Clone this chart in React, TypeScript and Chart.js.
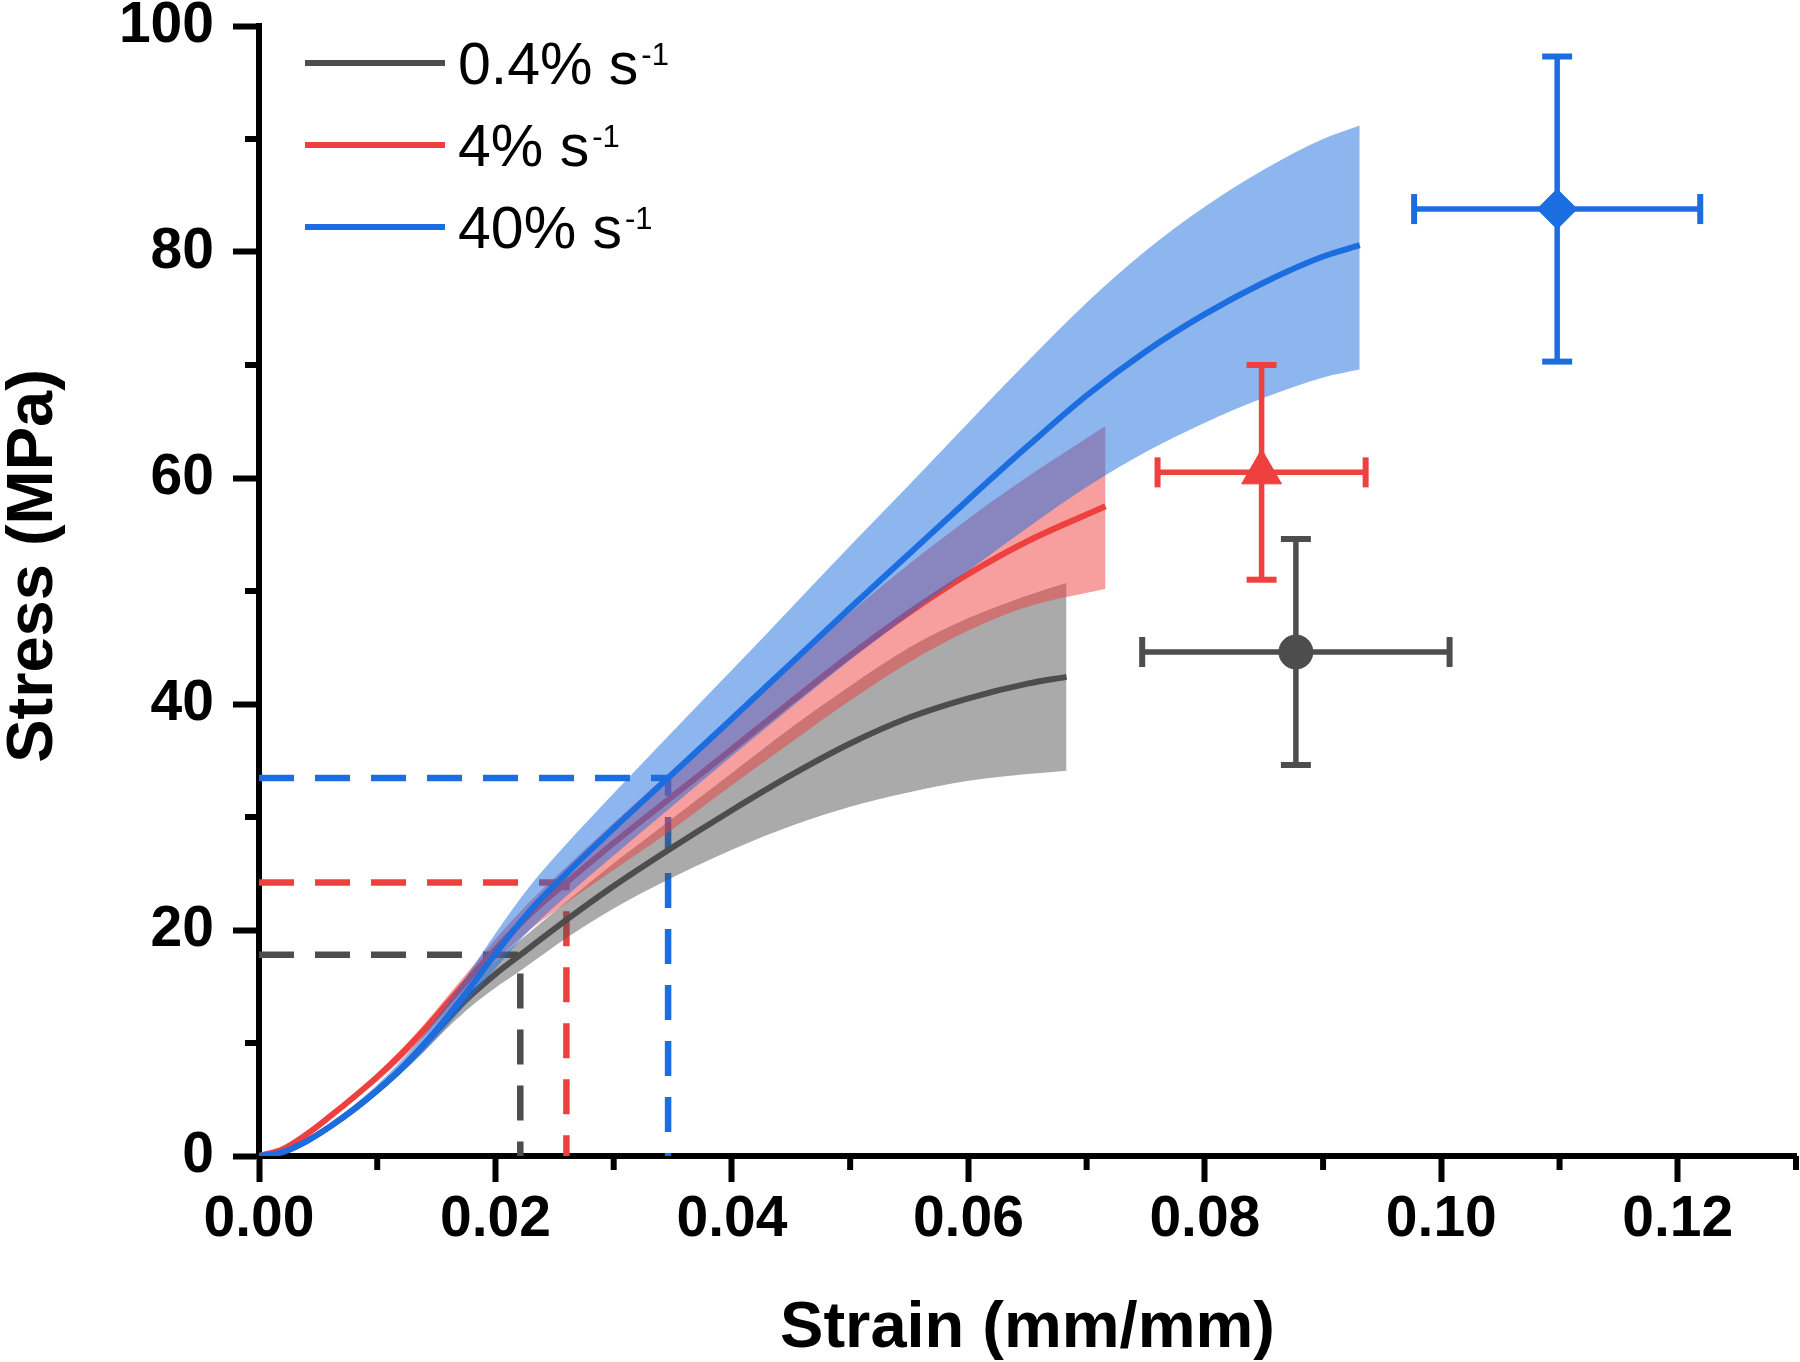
import { useEffect, useRef } from 'react';
import { Chart, registerables } from 'chart.js';

Chart.register(...registerables);

// ---------- data ----------
const seriesLabels = ['0.4% s', '4% s', '40% s'];
const labelSuperscript = '-1';
const seriesColors = ['#4d4d4d', '#ef4040', '#1c6ee0'];
const bandColors = ['rgba(77,77,77,0.48)', 'rgba(239,64,64,0.5)', 'rgba(28,110,224,0.5)'];

const xTitle = 'Strain (mm/mm)';
const yTitle = 'Stress (MPa)';

// 0.4% s-1
const strainSlow = [0, 0.002, 0.004, 0.006, 0.008, 0.010, 0.012, 0.014, 0.016, 0.018, 0.020, 0.0221, 0.026, 0.030, 0.0345, 0.040, 0.045, 0.050, 0.055, 0.060, 0.065, 0.0683];
const meanSlow = [0, 0.35, 1.3, 2.6, 4.1, 5.8, 7.7, 9.9, 12.2, 14.3, 16.1, 17.8, 20.9, 23.9, 27.0, 30.6, 33.7, 36.5, 38.8, 40.5, 41.8, 42.4];
const upperSlow = [0, 0.45, 1.45, 2.8, 4.35, 6.1, 8.1, 10.4, 12.9, 15.2, 17.2, 19.1, 22.5, 25.9, 29.5, 33.9, 37.9, 41.6, 45.0, 47.6, 49.6, 50.7];
const lowerSlow = [0, 0.3, 1.2, 2.45, 3.9, 5.5, 7.3, 9.3, 11.4, 13.3, 14.9, 16.4, 19.3, 21.9, 24.4, 27.1, 29.2, 30.9, 32.2, 33.2, 33.8, 34.1];

// 4% s-1
const strainMid = [0, 0.002, 0.004, 0.006, 0.008, 0.010, 0.012, 0.014, 0.016, 0.018, 0.020, 0.023, 0.026, 0.030, 0.0347, 0.040, 0.045, 0.050, 0.055, 0.060, 0.065, 0.0716];
const meanMid = [0, 0.6, 1.9, 3.5, 5.2, 7.0, 9.0, 11.2, 13.6, 16.0, 18.3, 21.5, 24.2, 27.7, 31.6, 36.0, 40.2, 44.3, 48.1, 51.5, 54.4, 57.5];
const upperMid = [0, 0.7, 2.05, 3.7, 5.5, 7.35, 9.4, 11.7, 14.2, 16.7, 19.2, 22.6, 25.6, 29.5, 33.9, 38.8, 43.5, 48.1, 52.4, 56.4, 60.1, 64.6];
const lowerMid = [0, 0.5, 1.75, 3.3, 4.9, 6.6, 8.5, 10.6, 12.9, 15.1, 17.2, 20.1, 22.4, 25.3, 28.7, 32.8, 36.6, 40.3, 43.7, 46.5, 48.6, 50.2];

// 40% s-1
const strainFast = [0, 0.002, 0.004, 0.006, 0.008, 0.010, 0.012, 0.014, 0.016, 0.018, 0.020, 0.023, 0.026, 0.030, 0.0346, 0.040, 0.045, 0.050, 0.055, 0.060, 0.065, 0.070, 0.075, 0.080, 0.085, 0.090, 0.0931];
const meanFast = [0, 0.35, 1.3, 2.6, 4.1, 5.8, 7.7, 9.9, 12.4, 15.1, 17.9, 21.8, 25.0, 29.0, 33.45, 38.7, 43.6, 48.5, 53.3, 58.1, 62.8, 67.3, 71.2, 74.5, 77.3, 79.6, 80.6];
const upperFast = [0, 0.45, 1.5, 2.9, 4.5, 6.3, 8.4, 10.8, 13.6, 16.6, 19.7, 24.0, 27.6, 32.1, 37.15, 43.0, 48.5, 54.0, 59.4, 64.9, 70.3, 75.5, 80.1, 84.0, 87.3, 90.0, 91.2];
const lowerFast = [0, 0.3, 1.2, 2.45, 3.9, 5.5, 7.3, 9.3, 11.6, 14.1, 16.6, 20.1, 23.0, 26.6, 30.65, 35.4, 39.7, 43.9, 47.9, 51.8, 55.6, 59.2, 62.3, 64.9, 67.1, 68.9, 69.6];

// dashed reference (yield) points
const yieldStrain = [0.0221, 0.0260, 0.0346];
const yieldStress = [17.8, 24.2, 33.45];

// failure points with error bars
const failStrain = [0.0877, 0.0848, 0.1098];
const failStrainErr = [0.0130, 0.0088, 0.0121];
const failStress = [44.6, 60.5, 83.8];
const failStressErr = [10.0, 9.5, 13.5];
const markerStyles = ['circle', 'triangle', 'rectRot'];
const markerRadii = [17, 23, 20];

// axes
const xMin = 0, xMax = 0.13, xStep = 0.01;
const yMin = 0, yMax = 100, yStep = 10;

const FONT = '"Liberation Sans", Arial, sans-serif';

const isMajorX = (v: number) => Math.round(v * 100) % 2 === 0;
const isMajorY = (v: number) => Math.round(v) % 20 === 0;

const pts = (xs: number[], ys: number[]) => xs.map((x, i) => ({ x, y: ys[i] }));

export default function App() {
  const ref = useRef<HTMLCanvasElement>(null);

  useEffect(() => {
    const canvas = ref.current;
    if (!canvas) return;

    const series = [
      { strain: strainSlow, mean: meanSlow, upper: upperSlow, lower: lowerSlow },
      { strain: strainMid, mean: meanMid, upper: upperMid, lower: lowerMid },
      { strain: strainFast, mean: meanFast, upper: upperFast, lower: lowerFast },
    ];

    const datasets: any[] = [];
    let order = 1000;

    // dashed guide lines (bottom layer)
    for (let i = 0; i < 3; i++) {
      datasets.push({
        data: [
          { x: xMin, y: yieldStress[i] },
          { x: yieldStrain[i], y: yieldStress[i] },
          { x: yieldStrain[i], y: yMin },
        ],
        borderColor: seriesColors[i],
        borderWidth: 6.5,
        borderDash: [35, 21],
        pointRadius: 0,
        fill: false,
        tension: 0,
        order: order--,
      });
    }

    // bands + mean lines
    for (let i = 0; i < 3; i++) {
      const s = series[i];
      const upIdx = datasets.length;
      datasets.push({
        data: pts(s.strain, s.upper),
        borderColor: 'rgba(0,0,0,0)',
        borderWidth: 0,
        pointRadius: 0,
        backgroundColor: bandColors[i],
        fill: { target: upIdx + 1, above: bandColors[i], below: bandColors[i] },
        cubicInterpolationMode: 'monotone',
        order: order--,
      });
      datasets.push({
        data: pts(s.strain, s.lower),
        borderColor: 'rgba(0,0,0,0)',
        borderWidth: 0,
        pointRadius: 0,
        fill: false,
        cubicInterpolationMode: 'monotone',
        order: order--,
      });
      datasets.push({
        data: pts(s.strain, s.mean),
        borderColor: seriesColors[i],
        borderWidth: 6,
        pointRadius: 0,
        fill: false,
        cubicInterpolationMode: 'monotone',
        order: order--,
      });
    }

    // error bars and markers
    for (let i = 0; i < 3; i++) {
      const c = seriesColors[i];
      datasets.push({
        data: [
          { x: failStrain[i] - failStrainErr[i], y: failStress[i] },
          { x: failStrain[i] + failStrainErr[i], y: failStress[i] },
        ],
        borderColor: c,
        borderWidth: 5.5,
        pointStyle: 'line',
        pointRotation: 90,
        pointRadius: 15,
        pointHoverRadius: 15,
        pointBorderWidth: 6,
        pointBorderColor: c,
        fill: false,
        order: order--,
      });
      datasets.push({
        data: [
          { x: failStrain[i], y: failStress[i] - failStressErr[i] },
          { x: failStrain[i], y: failStress[i] + failStressErr[i] },
        ],
        borderColor: c,
        borderWidth: 5.5,
        pointStyle: 'line',
        pointRotation: 0,
        pointRadius: 15,
        pointHoverRadius: 15,
        pointBorderWidth: 6,
        pointBorderColor: c,
        fill: false,
        order: order--,
      });
      datasets.push({
        data: [{ x: failStrain[i], y: failStress[i] }],
        showLine: false,
        pointStyle: markerStyles[i],
        pointRadius: markerRadii[i],
        pointHoverRadius: markerRadii[i],
        pointBackgroundColor: c,
        pointBorderColor: c,
        pointBorderWidth: 1,
        order: order--,
      });
    }

    const decor = {
      id: 'decor',
      afterDraw(chart: any) {
        const { ctx, chartArea, scales } = chart;
        const xs = scales.x;
        const ys = scales.y;
        ctx.save();
        // minor ticks
        ctx.strokeStyle = '#000';
        ctx.lineWidth = 6;
        ctx.lineCap = 'butt';
        xs.ticks.forEach((t: any) => {
          if (!isMajorX(t.value)) {
            const px = xs.getPixelForValue(t.value);
            ctx.beginPath();
            ctx.moveTo(px, chartArea.bottom);
            ctx.lineTo(px, chartArea.bottom + 14);
            ctx.stroke();
          }
        });
        ys.ticks.forEach((t: any) => {
          if (!isMajorY(t.value)) {
            const py = ys.getPixelForValue(t.value);
            ctx.beginPath();
            ctx.moveTo(chartArea.left, py);
            ctx.lineTo(chartArea.left - 14, py);
            ctx.stroke();
          }
        });

        // y-axis title
        ctx.save();
        ctx.translate(52, (chartArea.top + chartArea.bottom) / 2 - 25);
        ctx.rotate(-Math.PI / 2);
        ctx.fillStyle = '#000';
        ctx.font = `bold 65px ${FONT}`;
        ctx.textAlign = 'center';
        ctx.textBaseline = 'alphabetic';
        ctx.fillText(yTitle, 0, 0);
        ctx.restore();

        // legend
        const lx0 = chartArea.left + 46;
        const lx1 = chartArea.left + 186;
        const tx = chartArea.left + 199;
        for (let i = 0; i < 3; i++) {
          const ly = chartArea.top + 37 + 82 * i;
          ctx.strokeStyle = seriesColors[i];
          ctx.lineWidth = 6;
          ctx.beginPath();
          ctx.moveTo(lx0, ly);
          ctx.lineTo(lx1, ly);
          ctx.stroke();
          ctx.fillStyle = '#000';
          ctx.textAlign = 'left';
          ctx.textBaseline = 'alphabetic';
          ctx.font = `59px ${FONT}`;
          ctx.fillText(seriesLabels[i], tx, ly + 21);
          const w = ctx.measureText(seriesLabels[i]).width;
          ctx.font = `31px ${FONT}`;
          ctx.fillText(labelSuperscript, tx + w + 3, ly + 2);
        }
        ctx.restore();
      },
    };

    const chart = new Chart(canvas, {
      type: 'line',
      data: { datasets },
      plugins: [decor],
      options: {
        responsive: false,
        devicePixelRatio: 1,
        animation: false,
        events: [],
        layout: { autoPadding: false, padding: { top: 26, right: 3, left: 0, bottom: 0 } },
        plugins: {
          legend: { display: false },
          tooltip: { enabled: false },
        },
        scales: {
          x: {
            type: 'linear',
            min: xMin,
            max: xMax,
            afterFit: (s: any) => { s.height = 206; },
            ticks: {
              stepSize: xStep,
              autoSkip: false,
              maxRotation: 0,
              minRotation: 0,
              padding: 4,
              color: '#000',
              font: { family: FONT, size: 57, weight: 'bold', lineHeight: 1.2 },
              callback: (v: any) => {
                const k = Math.round(Number(v) * 100);
                return k % 2 === 0 ? (k / 100).toFixed(2) : '';
              },
            },
            grid: {
              drawOnChartArea: false,
              drawTicks: true,
              tickLength: 26,
              tickWidth: 6,
              tickColor: (c: any) => (c.tick && isMajorX(c.tick.value) ? '#000' : 'rgba(0,0,0,0)'),
            },
            border: { display: true, color: '#000', width: 6 },
            title: {
              display: true,
              text: xTitle,
              color: '#000',
              padding: 0,
              font: { family: FONT, size: 65, weight: 'bold', lineHeight: 1.0 },
            },
          },
          y: {
            type: 'linear',
            min: yMin,
            max: yMax,
            afterFit: (s: any) => { s.width = 259; },
            ticks: {
              stepSize: yStep,
              autoSkip: false,
              padding: 19,
              color: '#000',
              font: { family: FONT, size: 57, weight: 'bold', lineHeight: 0.1 },
              callback: (v: any) => (isMajorY(Number(v)) ? String(Math.round(Number(v))) : ''),
            },
            grid: {
              drawOnChartArea: false,
              drawTicks: true,
              tickLength: 26,
              tickWidth: 6,
              tickColor: (c: any) => (c.tick && isMajorY(c.tick.value) ? '#000' : 'rgba(0,0,0,0)'),
            },
            border: { display: true, color: '#000', width: 6 },
            title: { display: false },
          },
        },
      } as any,
    });

    return () => chart.destroy();
  }, []);

  return (
    <div style={{ position: 'absolute', left: 0, top: 0, width: 1800, height: 1362, background: '#fff' }}>
      <canvas ref={ref} width={1800} height={1362} style={{ display: 'block', width: 1800, height: 1362 }} />
    </div>
  );
}
